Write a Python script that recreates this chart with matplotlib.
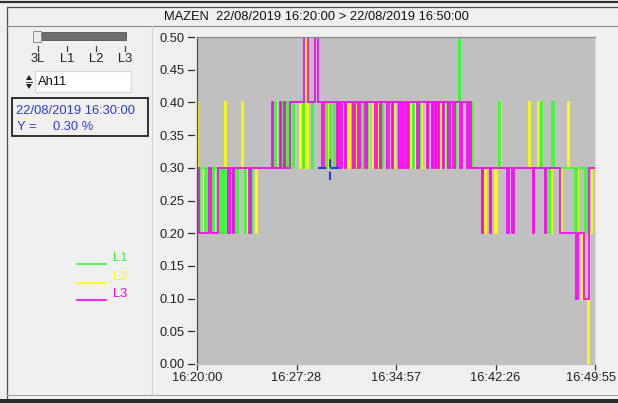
import matplotlib
matplotlib.use("Agg")
import matplotlib.pyplot as plt
from matplotlib.patches import Rectangle, Polygon
from matplotlib.transforms import ScaledTranslation

plt.rcParams['font.family'] = ['Liberation Sans', 'DejaVu Sans']

# ---- data: seconds after 16:20:00 where each phase changes, and its value (%) ----
l1_t = [0, 5, 12, 36, 45, 72, 78, 104, 108, 113, 118, 122, 130, 153, 158, 162, 168, 175, 185,
        216, 222, 239, 246,
        350, 356, 383, 405, 412, 432, 438, 478, 484, 519, 525, 582, 588, 600, 606, 618, 624,
        699, 705, 744, 750, 767, 773, 835, 841, 906, 912, 947, 953, 974, 980, 1001, 1007,
        1042, 1048, 1082, 1088, 1128, 1134, 1141, 1147, 1164, 1170, 1180, 1186, 1245,
        1362, 1368, 1551, 1557, 1583, 1590, 1601, 1610, 1705, 1712, 1750, 1758]
l1_v = [0.3, 0.2, 0.3, 0.2, 0.3, 0.2, 0.3, 0.2, 0.3, 0.2, 0.3, 0.2, 0.3, 0.2, 0.3, 0.2, 0.3, 0.2, 0.3,
        0.2, 0.3, 0.2, 0.3,
        0.4, 0.3, 0.4, 0.3, 0.4, 0.3, 0.4, 0.3, 0.4, 0.3, 0.4, 0.3, 0.4, 0.3, 0.4, 0.3, 0.4,
        0.3, 0.4, 0.3, 0.4, 0.3, 0.4, 0.3, 0.4, 0.3, 0.4, 0.3, 0.4, 0.3, 0.4, 0.3, 0.4,
        0.3, 0.4, 0.3, 0.4, 0.3, 0.4, 0.3, 0.4, 0.3, 0.4, 0.5, 0.4, 0.3,
        0.4, 0.3, 0.4, 0.3, 0.2, 0.3, 0.4, 0.3, 0.2, 0.3, 0.2, 0.3]

l2_t = [0, 5, 14, 30, 36, 45, 58, 76, 82, 126, 131, 164, 170, 203, 208, 225, 231, 266, 272,
        338, 345, 356, 362, 383, 389, 405, 465, 471, 480, 487, 494, 500, 568, 575, 591, 598,
        622, 628, 654, 660, 681, 688, 717, 723, 744, 751, 771, 777, 794, 801, 816, 823,
        861, 868, 893, 905, 938, 944, 961, 968, 983, 989, 1015, 1033, 1064, 1070, 1096, 1102,
        1118, 1124, 1132, 1138, 1150, 1156, 1186, 1192, 1245,
        1299, 1305, 1344, 1355, 1362, 1370, 1497, 1503, 1540, 1555, 1583, 1600, 1640, 1648,
        1673, 1679, 1720, 1736, 1764, 1770, 1780]
l2_v = [0.4, 0.2, 0.3, 0.2, 0.3, 0.2, 0.3, 0.2, 0.3, 0.4, 0.3, 0.2, 0.3, 0.4, 0.3, 0.2, 0.3, 0.2, 0.3,
        0.4, 0.3, 0.4, 0.3, 0.4, 0.3, 0.4, 0.3, 0.4, 0.3, 0.5, 0.3, 0.4, 0.3, 0.4, 0.3, 0.4,
        0.3, 0.4, 0.3, 0.4, 0.3, 0.4, 0.3, 0.4, 0.3, 0.4, 0.3, 0.4, 0.3, 0.4, 0.3, 0.4,
        0.3, 0.4, 0.3, 0.4, 0.3, 0.4, 0.3, 0.4, 0.3, 0.4, 0.3, 0.4, 0.3, 0.4, 0.3, 0.4,
        0.3, 0.4, 0.3, 0.4, 0.3, 0.4, 0.3, 0.4, 0.3,
        0.2, 0.3, 0.2, 0.3, 0.4, 0.3, 0.4, 0.3, 0.4, 0.3, 0.2, 0.3, 0.2, 0.3,
        0.4, 0.3, 0.2, 0.1, 0.0, 0.2, 0.3]

l3_t = [0, 9, 54, 63, 95, 140, 147, 162, 168, 235, 242,
        338, 345, 374, 380, 392, 399, 420, 483, 501, 532, 546,
        564, 572, 631, 638, 645, 652, 667, 674, 704, 711, 726, 733, 758, 765, 803, 810,
        825, 832, 857, 864, 879, 886, 911, 918, 929, 936, 947, 954, 992, 999, 1037, 1044,
        1060, 1066, 1073, 1080, 1087, 1093, 1109, 1116, 1132, 1139, 1155, 1162, 1186, 1193,
        1218, 1225,
        1236, 1285, 1291, 1321, 1327, 1398, 1405, 1422, 1430, 1515, 1521, 1569, 1575,
        1637, 1710, 1718, 1745, 1768]
l3_v = [0.3, 0.2, 0.3, 0.2, 0.3, 0.2, 0.3, 0.2, 0.3, 0.2, 0.3,
        0.4, 0.3, 0.4, 0.3, 0.4, 0.3, 0.4, 0.5, 0.4, 0.5, 0.4,
        0.3, 0.4, 0.3, 0.4, 0.3, 0.4, 0.3, 0.4, 0.3, 0.4, 0.3, 0.4, 0.3, 0.4, 0.3, 0.4,
        0.3, 0.4, 0.3, 0.4, 0.3, 0.4, 0.3, 0.4, 0.3, 0.4, 0.3, 0.4, 0.3, 0.4, 0.3, 0.4,
        0.3, 0.4, 0.3, 0.4, 0.3, 0.4, 0.3, 0.4, 0.3, 0.4, 0.3, 0.4, 0.3, 0.4,
        0.3, 0.4,
        0.3, 0.2, 0.3, 0.2, 0.3, 0.2, 0.3, 0.2, 0.3, 0.2, 0.3, 0.2, 0.3,
        0.2, 0.1, 0.2, 0.1, 0.3]

series_names = ["L1", "L2", "L3"]
series_colors = ["#33ff33", "#ffff00", "#ff00ff"]

x_end = 1795
x_ticks = [0, 448.75, 897.5, 1346.25, 1795]
x_labels = ["16:20:00", "16:27:28", "16:34:57", "16:42:26", "16:49:55"]
y_ticks = [0.00, 0.05, 0.10, 0.15, 0.20, 0.25, 0.30, 0.35, 0.40, 0.45, 0.50]

cursor_t, cursor_v = 600, 0.30
title = "MAZEN  22/08/2019 16:20:00 > 22/08/2019 16:50:00"
cursor_time = "22/08/2019 16:30:00"
cursor_value = "0.30 %"
channel = "Ah11"
slider_labels = ["3L", "L1", "L2", "L3"]

# ---- figure and window frame (pixel coordinates) ----
W, H = 618, 403
fig = plt.figure(figsize=(W / 100, H / 100), dpi=100, facecolor="#f0f0f0")
ui = fig.add_axes([0, 0, 1, 1])
ui.set_xlim(0, W)
ui.set_ylim(H, 0)
ui.axis("off")

FS = 9.3
ui.plot([0, W], [1.5, 1.5], color="#303030", lw=1.6)
ui.plot([7, W], [7, 7], color="#505050", lw=0.9)
ui.plot([7, 7], [7, 398], color="#505050", lw=0.9)
ui.plot([7, W], [26, 26], color="#8a8a8a", lw=0.8)
ui.plot([152, 152], [26, 395], color="#d4d4d4", lw=0.9)
ui.plot([7, W], [395, 395], color="#a0a0a0", lw=0.7)
ui.add_patch(Rectangle((0, 399), W, 5, facecolor="#2a2a2a", edgecolor="none"))
ui.text(316, 16.5, title, fontsize=FS, ha="center", va="center", color="#101010")

# slider
ui.add_patch(Rectangle((40, 32), 86, 8, facecolor="#6e6e6e", edgecolor="#505050", lw=0.6))
ui.add_patch(Rectangle((33, 30.5), 8, 11, facecolor="#ececec", edgecolor="#8c8c8c", lw=0.7))
for xs, lab in zip([38, 67, 96, 125], slider_labels):
    ui.plot([xs, xs], [46, 51], color="#404040", lw=0.9)
    ui.text(xs, 59.5, lab, fontsize=FS, ha="center", va="center", color="#202020")

# channel spin box
ui.add_patch(Rectangle((35, 71), 96, 21, facecolor="white", edgecolor="#d6d6d6", lw=0.8))
ui.add_patch(Polygon([[26, 80], [32, 80], [29, 75]], closed=True, facecolor="#202020"))
ui.add_patch(Polygon([[26, 84], [32, 84], [29, 89]], closed=True, facecolor="#202020"))
ui.plot([26, 32], [82, 82], color="#202020", lw=0.6)
ui.text(37.5, 82, channel, fontsize=FS, ha="left", va="center", color="#101010")

# cursor readout box
ui.add_patch(Rectangle((12, 98), 136, 38, facecolor="#f0f0f0", edgecolor="#202020", lw=1.3))
ui.text(16, 111, cursor_time, fontsize=FS, ha="left", va="center", color="#2b3ad8")
ui.text(17, 127, "Y =", fontsize=FS, ha="left", va="center", color="#2b3ad8")
ui.text(53, 127, cursor_value, fontsize=FS, ha="left", va="center", color="#2b3ad8")

# legend
for yl, name, col in zip([264, 283, 300], series_names, series_colors):
    ui.plot([77, 106], [yl, yl], color=col, lw=1.2)
    ui.text(113, yl - 6, name, fontsize=FS, ha="left", va="center", color=col)

# ---- plot area ----
left, right, top, bottom = 197, 595, 37, 364
ax = fig.add_axes([left / W, 1 - bottom / H, (right - left) / W, (bottom - top) / H])
ax.set_facecolor("#c0c0c0")
ax.set_xlim(0, x_end)
ax.set_ylim(0, 0.5)

for t, v, col in [(l2_t, l2_v, series_colors[1]),
                  (l1_t, l1_v, series_colors[0]),
                  (l3_t, l3_v, series_colors[2])]:
    ax.plot(list(t) + [x_end], list(v) + [v[-1]], drawstyle="steps-post",
            color=col, lw=1.25, solid_joinstyle="miter")

# cursor cross
ax.plot([cursor_t - 55, cursor_t + 55], [cursor_v, cursor_v], color="#2040e0",
        lw=1.5, dashes=(4, 2))
ax.plot([cursor_t, cursor_t], [cursor_v - 0.019, cursor_v + 0.019], color="#2040e0",
        lw=1.5, dashes=(4, 2))

ax.spines["left"].set_color("#505050")
ax.spines["top"].set_color("#8c8c8c")
ax.spines["right"].set_color("#dedede")
ax.spines["bottom"].set_color("#c0c0c0")
for s in ax.spines.values():
    s.set_linewidth(0.9)

ax.set_yticks(y_ticks)
ax.set_yticklabels([f"{v:.2f}" for v in y_ticks], fontsize=FS, color="#202020")
ax.tick_params(axis="y", length=0, pad=9)
ytr = ax.get_yaxis_transform()
for v in y_ticks:
    ax.plot([-9 / (right - left), -3.5 / (right - left)], [v, v], transform=ytr,
            color="#303030", lw=0.9, clip_on=False)

ax.set_xticks(x_ticks)
ax.set_xticklabels(x_labels, fontsize=FS, color="#202020")
ax.tick_params(axis="x", length=4, width=0.9, color="#303030", pad=2)
# keep the last time label inside the window edge
last = ax.get_xticklabels()[-1]
last.set_transform(last.get_transform() + ScaledTranslation(-4 / 100, 0, fig.dpi_scale_trans))

fig.savefig("out.png", dpi=100, facecolor=fig.get_facecolor())
